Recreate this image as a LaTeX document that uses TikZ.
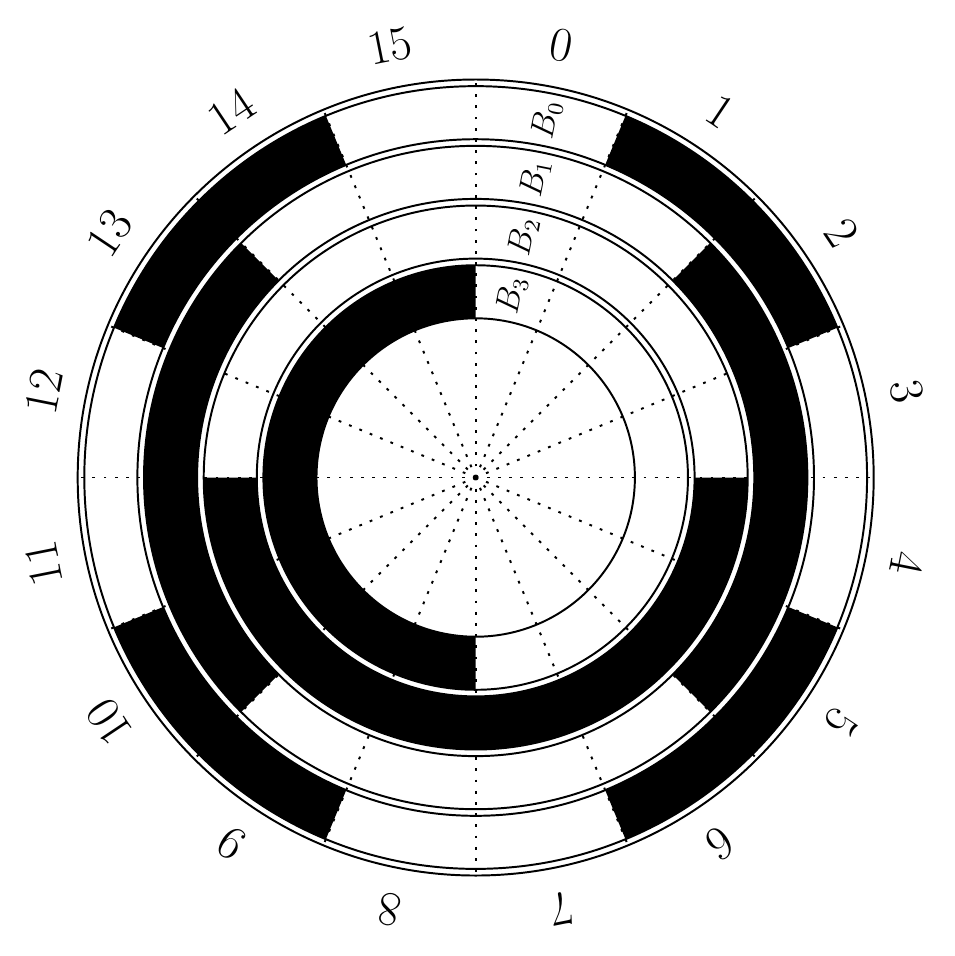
\documentclass[tikz,border=0pt]{standalone}
\begin{document}
\begin{tikzpicture}[
  ringline/.style={line width=0.7pt},
  raydots/.style={line width=0.7pt, dash pattern=on 1pt off 3pt},
  numlabel/.style={font=\LARGE, inner sep=0pt},
  bitlabel/.style={font=\large, inner sep=0pt}]
\useasboundingbox (-5.976,-6.011) rectangle (6.009,5.999);
\newcommand\annsec[4]{\fill[black] (#3:#1) arc[start angle=#3,end angle=#4,radius=#1] -- (#4:#2) arc[start angle=#4,end angle=#3,radius=#2] -- cycle;}
% B0 band
\annsec{4.25}{4.9167}{67.5}{22.5}
\annsec{4.25}{4.9167}{-22.5}{-67.5}
\annsec{4.25}{4.9167}{-112.5}{-157.5}
\annsec{4.25}{4.9167}{157.5}{112.5}
% B1 band
\annsec{3.5}{4.1667}{45}{-45}
\annsec{3.5}{4.1667}{225}{135}
% B2 band
\annsec{2.75}{3.4167}{0}{-180}
% B3 band
\annsec{2}{2.6667}{90}{270}
% circles
\foreach \r in {2,2.6667,2.75,3.4167,3.5,4.1667,4.25,4.9167,5}
  \draw[ringline] (0,0) circle[radius=\r];
% dotted rays
\foreach \a in {0,22.5,...,337.5}
  \draw[raydots] (0,0) -- (\a:5);
% sector numbers
\foreach \k in {0,...,15}{
  \pgfmathsetmacro\ang{78.75-22.5*\k}
  \node[numlabel, rotate=\ang-90] (n\k) at (\ang:5.53) {\k};
}
% bit labels
\node[bitlabel, rotate=78.75] (b0) at (78.75:4.583) {$B_0$};
\node[bitlabel, rotate=78.75] (b1) at (78.75:3.833) {$B_1$};
\node[bitlabel, rotate=78.75] (b2) at (78.75:3.083) {$B_2$};
\node[bitlabel, rotate=78.75] (b3) at (78.75:2.333) {$B_3$};
\end{tikzpicture}
\end{document}
